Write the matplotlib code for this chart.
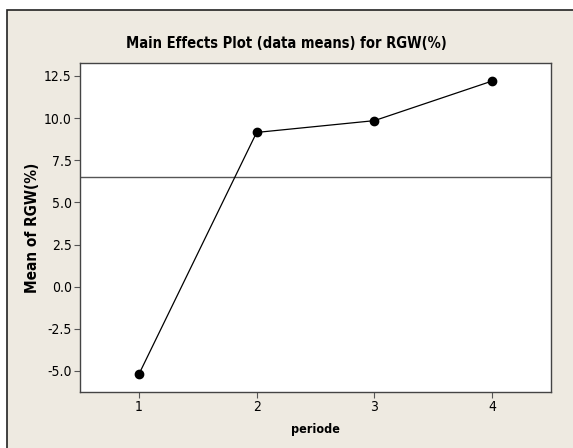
import matplotlib.pyplot as plt
from matplotlib.patches import Rectangle

# data
periode = [1, 2, 3, 4]
mean_rgw = [-5.2, 9.15, 9.85, 12.2]
yticks = [-5.0, -2.5, 0.0, 2.5, 5.0, 7.5, 10.0, 12.5]
grand_mean = sum(mean_rgw) / len(mean_rgw)

plt.rcParams['font.family'] = 'DejaVu Sans'
plt.rcParams['font.stretch'] = 'condensed'

W, H = 573, 448
fig = plt.figure(figsize=(W / 100, H / 100), dpi=100)
fig.patch.set_facecolor('white')

# beige frame, border only on left and top edges visible
frame = Rectangle((7 / W, -0.01), 1.02 - 7 / W, 1.01 - 10 / H,
                  transform=fig.transFigure, facecolor='#EEEAE1',
                  edgecolor='#222222', linewidth=1.2, zorder=-5)
fig.patches.append(frame)

ax = fig.add_axes([80 / W, 1 - 392 / H, (551 - 80) / W, (392 - 63) / H])
ax.set_facecolor('white')

ax.axhline(grand_mean, color='#555555', linewidth=1.0, zorder=2)
ax.plot(periode, mean_rgw, color='black', linewidth=0.9, marker='o',
        markersize=6, zorder=3)

ax.set_xlim(0.5, 4.5)
ax.set_ylim(-6.25, 13.27)
ax.set_xticks(periode)
ax.set_xticklabels([str(p) for p in periode])
ax.set_yticks(yticks)
ax.set_yticklabels([f'{v:.1f}' for v in yticks])

for s in ax.spines.values():
    s.set_color('#444444')
    s.set_linewidth(1.0)
ax.tick_params(direction='out', length=4, width=0.8, color='#555555',
               labelsize=10, pad=2)

ax.set_xlabel('periode', fontweight='bold', fontsize=9, labelpad=6)
ax.set_ylabel('Mean of RGW(%)', fontweight='bold', fontsize=11, labelpad=3)
fig.text(0.5, 1 - 43 / H, 'Main Effects Plot (data means) for RGW(%)',
         ha='center', va='center', fontweight='bold', fontsize=10.5)

plt.savefig('out.png', dpi=100)
